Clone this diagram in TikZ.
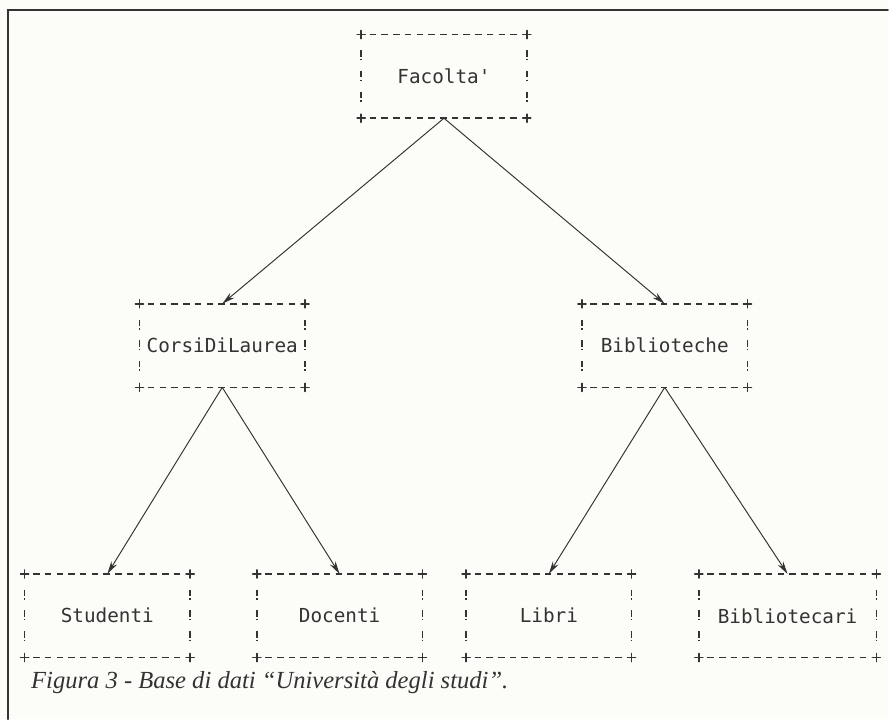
\documentclass[tikz,border=0pt]{standalone}
\usepackage{fontspec}
\usepackage{tikz}
\usetikzlibrary{arrows.meta}
\newfontfamily\dotfont{DejaVu Sans Mono}
\newfontfamily\capfont{Liberation Serif}
\definecolor{ink}{HTML}{333333}
\definecolor{paper}{HTML}{FCFCF8}

\begin{document}
\begin{tikzpicture}[>={Stealth[length=2.6mm,width=1.3mm]},line cap=round,
  recbox/.style={minimum width=3.3cm,minimum height=1.66cm,inner sep=0pt,text=ink,
    font=\dotfont\fontsize{11}{13}\selectfont},
  dashrow/.style={ink,line width=0.9pt,line cap=butt,dash pattern=on 3.7pt off 2.98pt},
  bangcol/.style={ink,line width=0.9pt,line cap=butt,dash pattern=on 3.6pt off 1.2pt on 0.9pt off 6.1pt},
  link/.style={->,ink,line width=0.55pt}]
\fill[paper] (0,0) rectangle (17.78,14.4);
\draw[ink,line width=1.2pt] (0.16,0) -- (0.16,14.2) -- (17.78,14.2);
\node[recbox] (fac) at (8.89,12.87) {Facolta\textquotesingle};
\node[recbox] (cdl) at (4.45,7.48) {CorsiDiLaurea};
\node[recbox] (bib) at (13.31,7.48) {Biblioteche};
\node[recbox] (stu) at (2.15,2.07) {Studenti};
\node[recbox] (doc) at (6.80,2.07) {Docenti};
\node[recbox] (lib) at (10.99,2.07) {Libri};
\node[recbox,minimum width=3.54cm] (bic) at (15.77,2.07) {Bibliotecari};
\foreach \n in {fac,cdl,bib,stu,doc,lib,bic}{
  \draw[dashrow] ([xshift=4.83pt]\n.north west) -- ([xshift=-4.83pt]\n.north east);
  \draw[dashrow] ([xshift=4.83pt]\n.south west) -- ([xshift=-4.83pt]\n.south east);
  \draw[bangcol] ([yshift=-9pt]\n.north west) -- ([yshift=9pt]\n.south west);
  \draw[bangcol] ([yshift=-9pt]\n.north east) -- ([yshift=9pt]\n.south east);
  \foreach \c in {north west,north east,south west,south east}
    \draw[ink,line width=0.9pt] ([xshift=-2.3pt]\n.\c) -- ([xshift=2.3pt]\n.\c)
      ([yshift=-2.3pt]\n.\c) -- ([yshift=2.3pt]\n.\c);
}
\draw[link] (fac.south) -- (cdl.north);
\draw[link] (fac.south) -- (bib.north);
\draw[link] (cdl.south) -- (stu.north);
\draw[link] (cdl.south) -- (doc.north);
\draw[link] (bib.south) -- (lib.north);
\draw[link] (bib.south) -- (bic.north);
\node[anchor=base west,text=ink,font=\capfont\itshape\fontsize{14}{16}\selectfont] (cap)
  at (0.5,0.62) {Figura 3 - Base di dati “Università degli studi”.};
\end{tikzpicture}
\end{document}
